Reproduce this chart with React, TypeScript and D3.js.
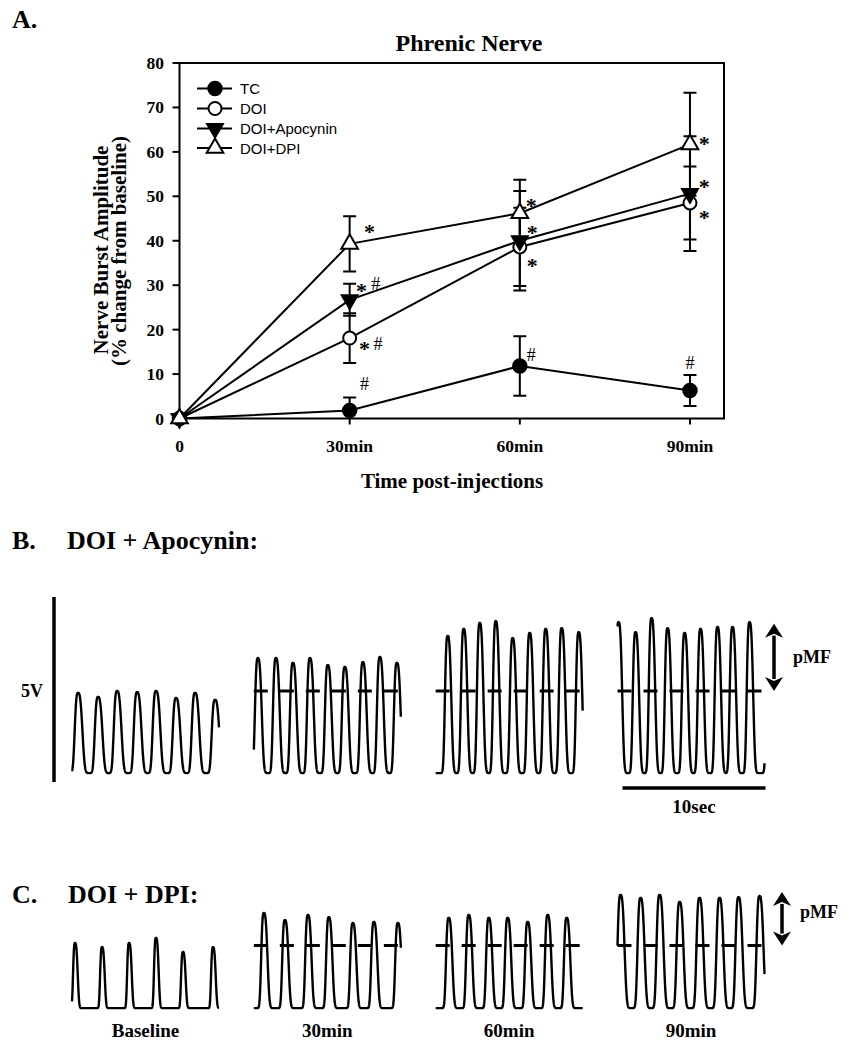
import React from "react";
import * as d3 from "d3";

// ---------- Panel A data ----------
const timePoints = [0, 30, 60, 90];
const xTickLabels = ["0", "30min", "60min", "90min"];
const yTicks = [0, 10, 20, 30, 40, 50, 60, 70, 80];
const seriesNames = ["TC", "DOI", "DOI+Apocynin", "DOI+DPI"];
const tcMean = [0, 1.8, 11.8, 6.3];
const tcErr = [0, 2.9, 6.7, 3.5];
const doiMean = [0, 18.1, 38.6, 48.5];
const doiErr = [0, 5.6, 8.8, 8.2];
const apoMean = [0, 26.7, 40.0, 50.6];
const apoErr = [0, 3.6, 11.2, 12.9];
const dpiMean = [0, 39.3, 46.2, 61.7];
const dpiErr = [0, 6.2, 7.5, 11.6];
// significance marks: [time, value, glyph]
const annotations: [number, number, string][] = [
  [33.5, 42.8, "*"],
  [32.1, 29.7, "*"],
  [34.6, 30.2, "#"],
  [32.6, 16.5, "*"],
  [35.0, 16.7, "#"],
  [32.6, 7.7, "#"],
  [62.0, 48.7, "*"],
  [62.2, 42.6, "*"],
  [62.2, 35.2, "*"],
  [62.0, 14.4, "#"],
  [92.5, 62.6, "*"],
  [92.5, 53.1, "*"],
  [92.5, 46.0, "*"],
  [90.0, 12.4, "#"],
];

// ---------- Panels B / C data (seconds, volts) ----------
const traceLabels = ["Baseline", "30min", "60min", "90min"];
const traceDuration = 10.28;
const troughV = 0.24;
const bPeakTimes = [
  [0.42, 1.82, 3.15, 4.55, 5.87, 7.27, 8.6, 10.0],
  [0.28, 1.54, 2.73, 3.92, 5.17, 6.36, 7.62, 8.81, 10.0],
  [0.84, 1.96, 3.08, 4.2, 5.38, 6.57, 7.69, 8.81, 10.0],
  [0.07, 1.26, 2.38, 3.5, 4.69, 5.8, 6.99, 8.04, 9.23, 10.6],
];
const bPeakAmps = [
  [2.41, 2.3, 2.46, 2.43, 2.46, 2.27, 2.41, 2.22],
  [3.35, 3.35, 3.22, 3.35, 3.16, 3.11, 3.24, 3.38, 3.22],
  [3.95, 4.14, 4.3, 4.35, 3.89, 4.03, 4.14, 4.16, 4.05],
  [4.32, 4.05, 4.43, 4.16, 4.03, 4.14, 4.19, 4.19, 4.32, 4.2],
];
const cPeakTimes = [
  [0.21, 2.1, 3.99, 5.87, 7.76, 9.86],
  [0.7, 2.17, 3.78, 5.24, 6.92, 8.39, 10.07],
  [0.91, 2.31, 3.71, 5.03, 6.43, 7.83, 9.16],
  [0.21, 1.61, 2.94, 4.34, 5.73, 7.13, 8.46, 9.93],
];
const cPeakAmps = [
  [2.0, 1.89, 2.0, 2.14, 1.76, 1.89],
  [2.81, 2.62, 2.76, 2.7, 2.54, 2.57, 2.54],
  [2.68, 2.76, 2.68, 2.68, 2.57, 2.76, 2.68],
  [3.3, 3.22, 3.3, 3.11, 3.22, 3.22, 3.24, 3.27],
];
const bMeanLine = 2.46;
const cMeanLine = 1.93;
const bArrowTop = 4.28;
const cArrowTop = 3.38;
const scaleBarVolts = 5;
const scaleBarSeconds = 10;

// burst shape widths (rise, fall) in seconds per trace — waveform styling
const bWidths = [[0.27, 0.36], [0.24, 0.32], [0.23, 0.3], [0.23, 0.3]];
const cWidths = [[0.16, 0.22], [0.22, 0.3], [0.22, 0.3], [0.25, 0.33]];

const SERIF = "'Liberation Serif', 'Times New Roman', serif";
const SANS = "'Liberation Sans', Arial, sans-serif";

function burstSamples(times: number[], amps: number[], w: number[]) {
  const [r, f] = w;
  const pts: [number, number][] = [];
  const step = 0.01;
  for (let t = 0; t <= traceDuration + 1e-9; t += step) {
    let v = troughV;
    times.forEach((tp, k) => {
      const u = t - tp;
      const sig = u < 0 ? r : f;
      const s = Math.exp(-Math.pow(Math.abs(u) / sig, 3));
      const val = troughV + (amps[k] - troughV) * s;
      if (val > v) v = val;
    });
    pts.push([t, v]);
  }
  return pts;
}

function Marker({ type, x, y }: { type: number; x: number; y: number }) {
  if (type === 0) return <circle cx={x} cy={y} r={7} fill="#000" stroke="#000" strokeWidth={1.5} />;
  if (type === 1) return <circle cx={x} cy={y} r={6.5} fill="#fff" stroke="#000" strokeWidth={2} />;
  const sym = d3.symbol().type(d3.symbolTriangle).size(120)();
  if (type === 2)
    return <path d={sym as string} transform={`translate(${x},${y}) rotate(180)`} fill="#000" stroke="#000" strokeWidth={1.5} />;
  return <path d={sym as string} transform={`translate(${x},${y})`} fill="#fff" stroke="#000" strokeWidth={2} />;
}

function DoubleArrow({ x, y1, y2 }: { x: number; y1: number; y2: number }) {
  const hw = 9;
  const hh = 14;
  return (
    <g>
      <line x1={x} x2={x} y1={y1 + hh - 2} y2={y2 - hh + 2} stroke="#000" strokeWidth={3.5} />
      <path d={`M${x},${y1} L${x - hw},${y1 + hh} L${x},${y1 + hh - 4} L${x + hw},${y1 + hh} Z`} fill="#000" />
      <path d={`M${x},${y2} L${x - hw},${y2 - hh} L${x},${y2 - hh + 4} L${x + hw},${y2 - hh} Z`} fill="#000" />
    </g>
  );
}

export default function App() {
  // ---------- Panel A layout ----------
  const x = d3.scaleLinear().domain([0, 96]).range([179.5, 724]);
  const y = d3.scaleLinear().domain([0, 80]).range([418.5, 63]);
  const means = [tcMean, doiMean, apoMean, dpiMean];
  const errs = [tcErr, doiErr, apoErr, dpiErr];
  const line = d3
    .line<number>()
    .x((_, i) => x(timePoints[i]))
    .y((d) => y(d));

  // ---------- Panels B / C layout ----------
  const colLeft = d3.scaleLinear().domain([0, 3]).range([72, 617.5]);
  const pxPerSec = 14.3;
  const yB = d3.scaleLinear().domain([0, 5]).range([782, 597]);
  const yC = d3.scaleLinear().domain([0, 5]).range([1017, 832]);

  const traceRow = (
    peakTimes: number[][],
    peakAmps: number[][],
    widths: number[][],
    ys: d3.ScaleLinear<number, number>,
    meanV: number,
    key: string
  ) =>
    peakTimes.map((times, i) => {
      const left = colLeft(i);
      const xs = d3.scaleLinear().domain([0, traceDuration]).range([left, left + traceDuration * pxPerSec]);
      const pts = burstSamples(times, peakAmps[i], widths[i]);
      const path = d3
        .line<[number, number]>()
        .x((d) => xs(d[0]))
        .y((d) => ys(d[1]))
        .curve(d3.curveLinear)(pts);
      return (
        <g key={key + i}>
          <path d={path as string} fill="none" stroke="#000" strokeWidth={2.4} strokeLinejoin="round" />
          {i > 0 && (
            <line
              x1={xs(0)}
              x2={xs(traceDuration) - 3}
              y1={ys(meanV)}
              y2={ys(meanV)}
              stroke="#000"
              strokeWidth={3}
              strokeDasharray="14 12"
            />
          )}
        </g>
      );
    });

  const legendY = [88.5, 108.5, 128.5, 148];

  return (
    <svg
      width={849}
      height={1050}
      style={{ position: "absolute", left: 0, top: 0, background: "#fff" }}
      fontFamily={SERIF}
    >
      <rect x={0} y={0} width={849} height={1050} fill="#fff" />
      <defs>
        <clipPath id="plotClip">
          <rect x={180} y={63} width={544} height={355.5} />
        </clipPath>
      </defs>

      {/* ---------- Panel A ---------- */}
      <text x={12} y={28} fontSize={26} fontWeight="bold">A.</text>
      <text x={469} y={51} fontSize={24} fontWeight="bold" textAnchor="middle">Phrenic Nerve</text>

      {/* frame */}
      <rect x={x(0)} y={y(80)} width={x(96) - x(0)} height={y(0) - y(80)} fill="none" stroke="#000" strokeWidth={2} />

      {/* y ticks */}
      {yTicks.map((t) => (
        <g key={"yt" + t}>
          <line x1={x(0) - 7} x2={x(0)} y1={y(t)} y2={y(t)} stroke="#000" strokeWidth={2} />
          <text x={164} y={y(t) + 6} fontSize={17.5} fontWeight="bold" textAnchor="end">{t}</text>
        </g>
      ))}
      {/* x ticks */}
      {timePoints.map((t, i) => (
        <g key={"xt" + t}>
          <line x1={x(t)} x2={x(t)} y1={y(0)} y2={y(0) + 6} stroke="#000" strokeWidth={2} />
          <text x={x(t)} y={452} fontSize={17.5} fontWeight="bold" textAnchor="middle">{xTickLabels[i]}</text>
        </g>
      ))}

      {/* axis titles */}
      <text transform="translate(108,250) rotate(-90)" fontSize={21} fontWeight="bold" textAnchor="middle">Nerve Burst Amplitude</text>
      <text transform="translate(126,251) rotate(-90)" fontSize={21} fontWeight="bold" textAnchor="middle">(% change from baseline)</text>
      <text x={452} y={488} fontSize={21} fontWeight="bold" textAnchor="middle">Time post-injections</text>

      {/* series lines */}
      {means.map((m, s) => (
        <path key={"ln" + s} d={line(m) as string} fill="none" stroke="#000" strokeWidth={2} />
      ))}
      {/* error bars */}
      <g clipPath="url(#plotClip)">
        {means.map((m, s) =>
          m.map((v, i) =>
            errs[s][i] > 0 ? (
              <g key={"eb" + s + i} stroke="#000" strokeWidth={2}>
                <line x1={x(timePoints[i])} x2={x(timePoints[i])} y1={y(v - errs[s][i])} y2={y(v + errs[s][i])} />
                <line x1={x(timePoints[i]) - 6.5} x2={x(timePoints[i]) + 6.5} y1={y(v + errs[s][i])} y2={y(v + errs[s][i])} />
                <line x1={x(timePoints[i]) - 6.5} x2={x(timePoints[i]) + 6.5} y1={y(v - errs[s][i])} y2={y(v - errs[s][i])} />
              </g>
            ) : null
          )
        )}
      </g>
      {/* markers */}
      {means.map((m, s) =>
        m.map((v, i) => <Marker key={"mk" + s + i} type={s} x={x(timePoints[i])} y={y(v)} />)
      )}
      {/* annotations */}
      {annotations.map(([t, v, g], k) =>
        g === "*" ? (
          <text key={"an" + k} x={x(t)} y={y(v) + 11} fontSize={22} fontWeight="bold" textAnchor="middle">*</text>
        ) : (
          <text key={"an" + k} x={x(t)} y={y(v) + 6} fontSize={18} textAnchor="middle">#</text>
        )
      )}

      {/* legend */}
      {seriesNames.map((n, s) => (
        <g key={"lg" + s}>
          <line x1={197} x2={232} y1={legendY[s]} y2={legendY[s]} stroke="#000" strokeWidth={2} />
          <Marker type={s} x={215} y={legendY[s]} />
          <text x={240} y={legendY[s] + 5.5} fontSize={15} fontFamily={SANS}>{n}</text>
        </g>
      ))}

      {/* ---------- Panel B ---------- */}
      <text x={12} y={549} fontSize={26} fontWeight="bold">B.</text>
      <text x={67} y={549} fontSize={26} fontWeight="bold">DOI + Apocynin:</text>
      <line x1={54} x2={54} y1={yB(0)} y2={yB(scaleBarVolts)} stroke="#000" strokeWidth={3.5} />
      <text x={21} y={697} fontSize={18} fontWeight="bold">5V</text>
      {traceRow(bPeakTimes, bPeakAmps, bWidths, yB, bMeanLine, "b")}
      <line
        x1={colLeft(3) + 5}
        x2={colLeft(3) + 5 + scaleBarSeconds * pxPerSec}
        y1={788}
        y2={788}
        stroke="#000"
        strokeWidth={3.5}
      />
      <text x={colLeft(3) + 5 + (scaleBarSeconds * pxPerSec) / 2} y={813} fontSize={19} fontWeight="bold" textAnchor="middle">10sec</text>
      <DoubleArrow x={774} y1={yB(bArrowTop)} y2={yB(bMeanLine)} />
      <text x={793} y={663} fontSize={18} fontWeight="bold">pMF</text>

      {/* ---------- Panel C ---------- */}
      <text x={12} y={903} fontSize={26} fontWeight="bold">C.</text>
      <text x={68} y={903} fontSize={26} fontWeight="bold">DOI + DPI:</text>
      {traceRow(cPeakTimes, cPeakAmps, cWidths, yC, cMeanLine, "c")}
      {traceLabels.map((l, i) => (
        <text key={"tl" + i} x={colLeft(i) + (traceDuration * pxPerSec) / 2} y={1037} fontSize={19} fontWeight="bold" textAnchor="middle">
          {l}
        </text>
      ))}
      <DoubleArrow x={782} y1={yC(cArrowTop)} y2={yC(cMeanLine)} />
      <text x={800} y={918} fontSize={18} fontWeight="bold">pMF</text>
    </svg>
  );
}
